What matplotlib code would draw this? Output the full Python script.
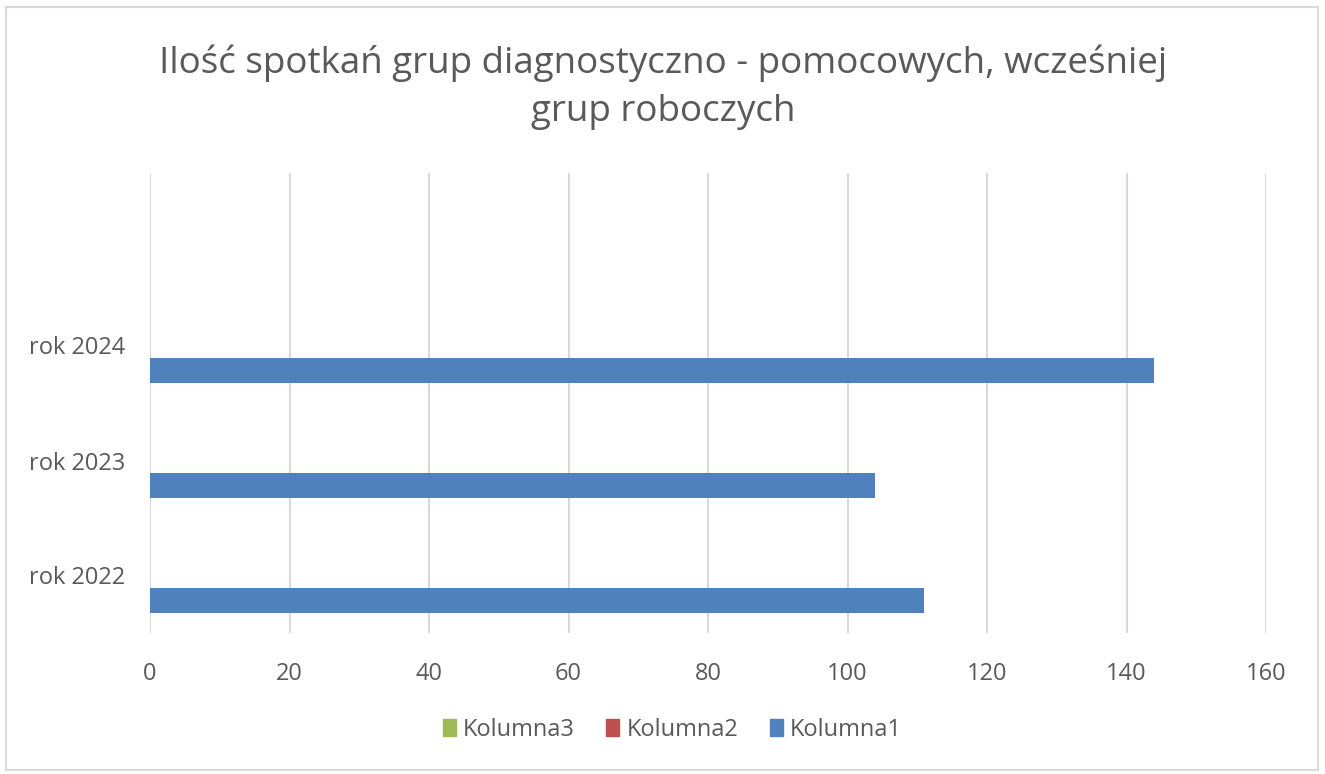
import numpy as np
import matplotlib.pyplot as plt
from matplotlib.patches import Rectangle

# dane
kategorie = ['rok 2022', 'rok 2023', 'rok 2024', '']
kolumna1 = [111, 104, 144, 0]
kolumna2 = [0, 0, 0, 0]
kolumna3 = [0, 0, 0, 0]
xticks = [0, 20, 40, 60, 80, 100, 120, 140, 160]
tytul = 'Ilość spotkań grup diagnostyczno - pomocowych, wcześniej\ngrup roboczych'

plt.rcParams['font.family'] = ['Open Sans', 'DejaVu Sans']
szary = '#595959'

fig = plt.figure(figsize=(13.25, 7.74), dpi=100)
ax = fig.add_axes([150/1325, 1-633/774, (1266-150)/1325, (633-173)/774])

y = np.arange(len(kategorie))
h = 0.22
ax.barh(y - h, kolumna1, height=h, color='#4f81bd', label='Kolumna1', zorder=3)
ax.barh(y, kolumna2, height=h, color='#c0504d', label='Kolumna2', zorder=3)
ax.barh(y + h, kolumna3, height=h, color='#9bbb59', label='Kolumna3', zorder=3)

ax.set_xlim(0, 160)
ax.set_ylim(-0.5, len(kategorie) - 0.5)
ax.set_xticks(xticks)
ax.set_yticks(y)
ax.set_yticklabels(kategorie)
ax.grid(axis='x', color='#d9d9d9', linewidth=1.5, zorder=0)
for s in ax.spines.values():
    s.set_visible(False)
ax.tick_params(axis='both', length=0, labelsize=17, labelcolor=szary)
ax.tick_params(axis='x', pad=21)
ax.tick_params(axis='y', pad=18)

fig.text(0.5004, 1-87/774, tytul, ha='center', va='center', fontsize=26.5,
         color=szary, linespacing=1.45)

uchwyty = [Rectangle((0, 0), 1, 1, color=c) for c in ['#9bbb59', '#c0504d', '#4f81bd']]
fig.legend(uchwyty, ['Kolumna3', 'Kolumna2', 'Kolumna1'], loc='center',
           bbox_to_anchor=(0.5075, 1-730/774), ncol=3, frameon=False,
           handlelength=0.55, handleheight=0.75, handletextpad=0.3,
           columnspacing=1.35, fontsize=17, labelcolor=szary)

fig.patches.append(Rectangle((6/1325, 4/774), 1312/1325, 763/774, transform=fig.transFigure,
                             fill=False, edgecolor='#d9d9d9', linewidth=1.5))

fig.savefig('out.png', dpi=100, facecolor='white')
